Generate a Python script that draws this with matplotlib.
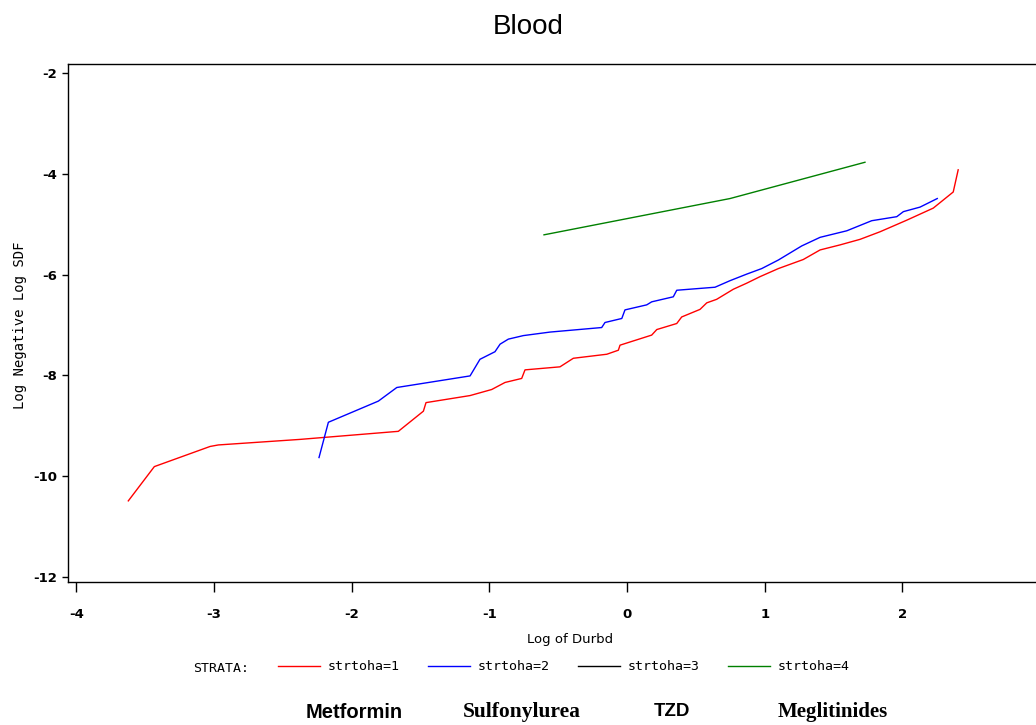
import matplotlib
matplotlib.use("Agg")
import matplotlib.pyplot as plt
from matplotlib.lines import Line2D

# strata 1 (Metformin)
red_x = [-3.622, -3.433, -3.028, -2.968, -2.375, -1.661, -1.479, -1.460, -1.140, -0.983,
         -0.886, -0.765, -0.741, -0.487, -0.390, -0.147, -0.063, -0.051, 0.179, 0.216,
         0.361, 0.397, 0.530, 0.579, 0.651, 0.772, 0.869, 0.966, 1.099, 1.280,
         1.402, 1.547, 1.692, 1.837, 2.031, 2.224, 2.369, 2.405]
red_y = [-10.49, -9.81, -9.41, -9.38, -9.27, -9.11, -8.71, -8.54, -8.40, -8.28,
         -8.14, -8.06, -7.89, -7.83, -7.66, -7.58, -7.50, -7.40, -7.20, -7.09,
         -6.97, -6.84, -6.69, -6.56, -6.49, -6.29, -6.17, -6.04, -5.88, -5.70,
         -5.51, -5.41, -5.30, -5.15, -4.92, -4.68, -4.36, -3.92]

# strata 2 (Sulfonylurea)
blue_x = [-2.237, -2.169, -1.806, -1.672, -1.140, -1.068, -0.959, -0.922, -0.862, -0.753,
          -0.559, -0.184, -0.160, -0.038, -0.015, 0.143, 0.179, 0.336, 0.361, 0.639,
          0.748, 0.869, 0.978, 1.099, 1.269, 1.402, 1.596, 1.777, 1.959, 2.007,
          2.128, 2.253]
blue_y = [-9.63, -8.93, -8.51, -8.24, -8.01, -7.68, -7.53, -7.38, -7.28, -7.21,
          -7.14, -7.05, -6.95, -6.87, -6.70, -6.60, -6.54, -6.44, -6.31, -6.25,
          -6.12, -5.99, -5.88, -5.71, -5.43, -5.26, -5.13, -4.93, -4.85, -4.75,
          -4.66, -4.49]

# strata 4 (Meglitinides)
green_x = [-0.603, 0.748, 1.728]
green_y = [-5.21, -4.49, -3.77]

x_ticks = [-4, -3, -2, -1, 0, 1, 2, 3]
y_ticks = [-2, -4, -6, -8, -10, -12]
strata_labels = ["strtoha=1", "strtoha=2", "strtoha=3", "strtoha=4"]
drug_names = ["Metformin", "Sulfonylurea", "TZD", "Meglitinides"]

W, H = 1036, 725
fig = plt.figure(figsize=(W / 100, H / 100), dpi=100)
ax = fig.add_axes([68 / W, (H - 582) / H, 979 / W, 518 / H])

l1, = ax.plot(red_x, red_y, color="#ff0000", lw=1.0)
l2, = ax.plot(blue_x, blue_y, color="#0000ff", lw=1.0)
l4, = ax.plot(green_x, green_y, color="#008000", lw=1.0)
l3 = Line2D([], [], color="black", lw=1.0)

ax.set_xlim(-4.06, 3.05)
ax.set_ylim(-12.1, -1.82)
ax.set_xticks(x_ticks)
ax.set_yticks(y_ticks)
ax.set_xticklabels([str(t) for t in x_ticks], fontweight="bold", fontsize=9.5)
ax.set_yticklabels([str(t) for t in y_ticks], fontweight="bold", fontsize=9.5)
ax.tick_params(axis="x", direction="out", length=7, width=1, pad=12)
ax.tick_params(axis="y", direction="out", length=4, width=1, pad=4)
for s in ax.spines.values():
    s.set_linewidth(1.0)

fig.text(528 / W, 1 - 27 / H, "Blood", ha="center", va="center", fontsize=20,
         family="Liberation Sans")
fig.text(570 / W, 1 - 640 / H, "Log of Durbd", ha="center", va="center", fontsize=9.5)
fig.text(20 / W, 1 - 325 / H, "Log Negative Log SDF", ha="center", va="center",
         rotation=90, fontsize=10, family="DejaVu Sans Mono")

# legend row
fig.text(193 / W, 1 - 668 / H, "STRATA:", ha="left", va="center", fontsize=9.5,
         family="DejaVu Sans Mono")
fig.legend([l1, l2, l3, l4], strata_labels, loc="center left",
           bbox_to_anchor=(278 / W, 1 - 667 / H), ncol=4, frameon=False,
           borderpad=0, borderaxespad=0, handlelength=3.2, handletextpad=0.6,
           columnspacing=2.1, prop={"family": "DejaVu Sans Mono", "size": 9.5})

# drug names under the legend
name_x = [354, 522, 672, 833]
name_font = ["Liberation Sans", "Liberation Serif", "Liberation Sans", "Liberation Serif"]
name_size = [14.5, 15.5, 13.5, 15]
for nm, px, fam, fs in zip(drug_names, name_x, name_font, name_size):
    fig.text(px / W, 1 - 712 / H, nm, ha="center", va="center", fontsize=fs,
             fontweight="bold", family=fam)

fig.savefig("out.png", dpi=100)
